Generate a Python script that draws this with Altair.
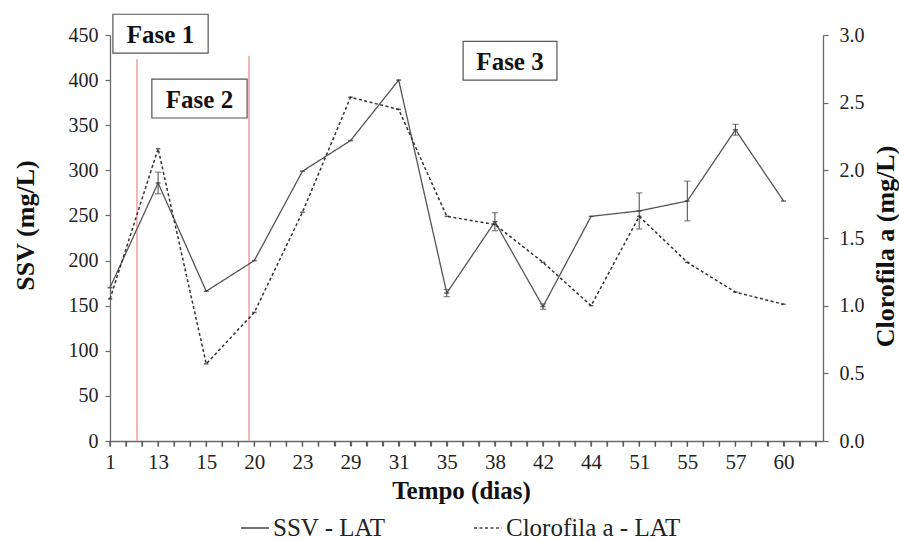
import altair as alt
import pandas as pd

# ---------------- data ----------------
day_labels = ["1", "13", "15", "20", "23", "29", "31", "35", "38", "42", "44", "51", "55", "57", "60"]
ssv_values = [170, 286, 166, 200, 299, 333, 400, 164, 243, 149, 249, 255, 266, 345, 266]
ssv_errors = [0, 12, 0, 0, 0, 0, 0, 4, 10, 3, 0, 20, 22, 6, 0]
chl_values = [1.05, 2.16, 0.57, 0.95, 1.69, 2.54, 2.45, 1.66, 1.60, 1.32, 1.00, 1.66, 1.32, 1.10, 1.01]

phase_names = ["Fase 1", "Fase 2", "Fase 3"]
phase_box_x1 = [0.06, 0.87, 7.34]
phase_box_x2 = [2.04, 2.85, 9.29]
phase_box_y1 = [430, 358, 400]
phase_box_y2 = [473, 401, 443]
phase_divider_x = [0.56, 2.89]
phase_divider_top = [423, 427]

series_names = ["SSV - LAT", "Clorofila a - LAT"]
minor_steps_per_day = 3

# ---------------- frames ----------------
idx = list(range(len(day_labels)))
ssv_df = pd.DataFrame({"idx": idx, "dia": day_labels, "ssv": ssv_values,
                       "err": ssv_errors, "serie": series_names[0]})
ssv_df["lo"] = ssv_df["ssv"] - ssv_df["err"]
ssv_df["hi"] = ssv_df["ssv"] + ssv_df["err"]
chl_df = pd.DataFrame({"idx": idx, "dia": day_labels, "chl": chl_values, "serie": series_names[1]})
box_df = pd.DataFrame({"name": phase_names, "bx1": phase_box_x1, "bx2": phase_box_x2,
                       "by1": phase_box_y1, "by2": phase_box_y2})
box_df["xc"] = (box_df["bx1"] + box_df["bx2"]) / 2
box_df["yc"] = (box_df["by1"] + box_df["by2"]) / 2
div_df = pd.DataFrame({"dx": phase_divider_x, "top": phase_divider_top, "bottom": [0, 0]})

FONT = "Liberation Serif, Times New Roman, DejaVu Serif, serif"
X_MAX = 14.82
AX = "#6a6a6a"
TICK_LEN_UNITS = 6.0  # length of the minor ticks, in SSV units (about 5 px)

tick_values = [round(i / minor_steps_per_day, 4) for i in range(int(X_MAX * minor_steps_per_day) + 1)]
tick_df = pd.DataFrame({"tk": tick_values, "tk_a": [0.0] * len(tick_values),
                        "tk_b": [-TICK_LEN_UNITS] * len(tick_values)})

label_js = "[" + ",".join(f"'{d}'" for d in day_labels) + "]"
x_scale = alt.Scale(domain=[0, X_MAX], nice=False, zero=False)
x_axis = alt.Axis(
    values=tick_values, tickCount=len(tick_values) + 10,
    labelExpr=f"abs(datum.value - round(datum.value)) < 0.01 ? {label_js}[round(datum.value)] : ''",
    title="Tempo (dias)", tickSize=5, labelFlush=False, labelOverlap=False, grid=False,
    labelFont=FONT, labelFontSize=21, labelPadding=5, labelColor="#222",
    titleFont=FONT, titleFontSize=25, titleFontWeight="bold", titleColor="#111",
    titleX=351, titleY=57, titleAlign="center", titleBaseline="alphabetic",
    domainColor=AX, tickColor=AX, domainWidth=1.3, tickWidth=1.2,
)


def X(field):
    return alt.X(f"{field}:Q", scale=x_scale, axis=x_axis, title="Tempo (dias)")


ssv_scale = alt.Scale(domain=[0, 450], nice=False, zero=False)
ssv_axis = alt.Axis(
    values=list(range(0, 451, 50)), tickCount=20, tickSize=5, labelPadding=7, grid=False,
    labelFont=FONT, labelFontSize=20, labelColor="#222",
    title="SSV (mg/L)", titleFont=FONT, titleFontSize=26, titleFontWeight="bold", titleColor="#111",
    titleX=-85, titleY=190, titleAngle=270, titleAlign="center", titleBaseline="middle",
    domainColor=AX, tickColor=AX, domainWidth=1.3, tickWidth=1.2,
)


def Y(field):
    return alt.Y(f"{field}:Q", scale=ssv_scale, axis=ssv_axis, title="SSV (mg/L)")


chl_axis = alt.Axis(
    orient="right", values=[0, 0.5, 1.0, 1.5, 2.0, 2.5, 3.0], format=".1f", tickCount=20,
    tickSize=5, labelPadding=11, grid=False,
    labelFont=FONT, labelFontSize=20, labelColor="#222",
    title="Clorofila a (mg/L)", titleFont=FONT, titleFontSize=26, titleFontWeight="bold", titleColor="#111",
    titleX=62, titleY=211, titleAngle=270, titleAlign="center", titleBaseline="middle",
    domainColor=AX, tickColor=AX, domainWidth=1.3, tickWidth=1.2,
)

dash_scale = alt.Scale(domain=series_names, range=[[1, 0], [3, 2.5]])
legend = alt.Legend(
    orient="none", legendX=130, legendY=478, direction="horizontal", title=None,
    symbolType="stroke", symbolSize=784, symbolStrokeWidth=1.3, symbolStrokeColor="#444",
    labelFont=FONT, labelFontSize=25, labelColor="#222", labelOffset=3,
    columnPadding=85, labelLimit=400,
)
dash_enc = alt.StrokeDash("serie:N", scale=dash_scale, legend=legend)

# ---------------- layers on SSV axis ----------------
minor_ticks = alt.Chart(tick_df).mark_rule(color="#555", strokeWidth=1.3).encode(
    x=X("tk"), y=Y("tk_a"), y2=alt.Y2("tk_b")
)
dividers = alt.Chart(div_df).mark_rule(color="#f4a3a3", strokeWidth=1.6).encode(
    x=X("dx"), y=Y("top"), y2=alt.Y2("bottom")
)
boxes = alt.Chart(box_df).mark_rect(fill="white", stroke="#555", strokeWidth=1.2).encode(
    x=X("bx1"), x2=alt.X2("bx2"), y=Y("by1"), y2=alt.Y2("by2")
)
box_text = alt.Chart(box_df).mark_text(
    font=FONT, fontSize=25, fontWeight="bold", color="#111", align="center", baseline="middle", dy=1
).encode(x=X("xc"), y=Y("yc"), text="name:N")

ssv_line = alt.Chart(ssv_df).mark_line(color="#555", strokeWidth=1.3).encode(
    x=X("idx"), y=Y("ssv"), strokeDash=dash_enc
)
ssv_pts = alt.Chart(ssv_df).mark_point(shape="stroke", size=25, strokeWidth=1.5, color="#333").encode(
    x=X("idx"), y=Y("ssv")
)
err_rule = alt.Chart(ssv_df).transform_filter("datum.err > 0").mark_rule(color="#555", strokeWidth=1.1).encode(
    x=X("idx"), y=Y("lo"), y2=alt.Y2("hi")
)
err_caps = alt.Chart(ssv_df).transform_filter("datum.err > 0").transform_fold(
    ["lo", "hi"], as_=["k", "v"]
).mark_point(shape="stroke", size=40, strokeWidth=1.2, color="#555").encode(
    x=X("idx"), y=Y("v")
)

ssv_group = alt.layer(minor_ticks, dividers, ssv_line, err_rule, err_caps, ssv_pts, boxes, box_text)

# ---------------- layer on Chl axis ----------------
chl_scale = alt.Scale(domain=[0, 3], nice=False, zero=True)
chl_line = alt.Chart(chl_df).mark_line(color="#333", strokeWidth=1.5).encode(
    x=X("idx"),
    y=alt.Y("chl:Q", scale=chl_scale, axis=chl_axis, title="Clorofila a (mg/L)"),
    strokeDash=dash_enc,
)
chl_pts = alt.Chart(chl_df).mark_point(shape="stroke", size=20, strokeWidth=1.5, color="#222").encode(
    x=X("idx"),
    y=alt.Y("chl:Q", scale=chl_scale, axis=chl_axis, title="Clorofila a (mg/L)"),
)
chl_group = alt.layer(chl_line, chl_pts)

chart = alt.layer(ssv_group, chl_group).resolve_scale(y="independent").properties(
    width=713, height=406,
    autosize=alt.AutoSizeParams(type="none"),
    padding={"left": 110, "top": 35, "right": 76, "bottom": 99},
    background="white",
).configure_view(stroke=None)

chart.save("out.html", embed_options={"renderer": "svg", "actions": False})
